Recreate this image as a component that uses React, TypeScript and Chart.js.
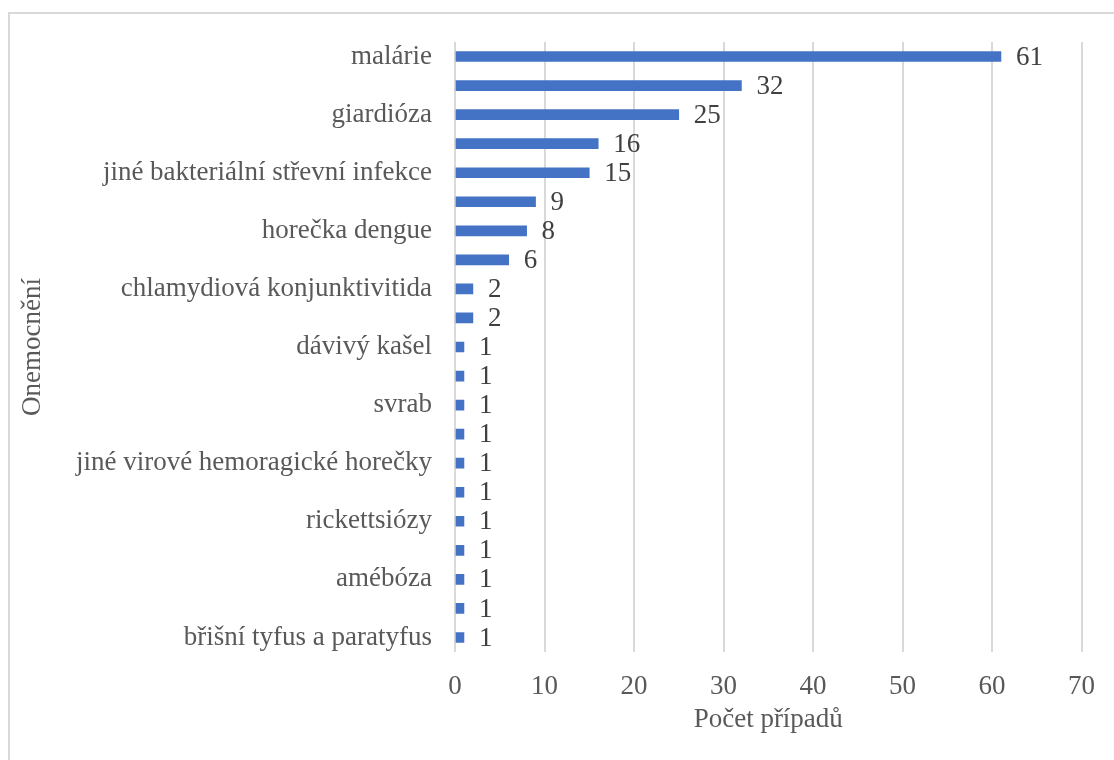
import React, { useEffect, useRef } from "react";
import { Chart, registerables } from "chart.js";

Chart.register(...registerables);

// Imported infectious diseases, ordered by number of cases (top to bottom)
const diseases: string[] = [
  "malárie",
  "kampylobakterióza",
  "giardióza",
  "salmonelóza",
  "jiné bakteriální střevní infekce",
  "virová hepatitida A",
  "horečka dengue",
  "shigelóza",
  "chlamydiová konjunktivitida",
  "leptospiróza",
  "dávivý kašel",
  "horečka zika",
  "svrab",
  "tuberkulóza",
  "jiné virové hemoragické horečky",
  "spalničky",
  "rickettsiózy",
  "kryptosporidióza",
  "amébóza",
  "lymeská borelióza",
  "břišní tyfus a paratyfus",
];

const cases: number[] = [61, 32, 25, 16, 15, 9, 8, 6, 2, 2, 1, 1, 1, 1, 1, 1, 1, 1, 1, 1, 1];

const xTicks: number[] = [0, 10, 20, 30, 40, 50, 60, 70];

const FONT = "'Liberation Serif', 'Times New Roman', serif";
const TEXT = "#595959";
const SIZE = 27;

// Value labels to the right of each bar
const valueLabels = {
  id: "valueLabels",
  afterDatasetsDraw(chart: Chart) {
    const { ctx } = chart;
    const meta = chart.getDatasetMeta(0);
    ctx.save();
    ctx.font = `${SIZE}px ${FONT}`;
    ctx.fillStyle = "#404040";
    ctx.textAlign = "left";
    ctx.textBaseline = "middle";
    meta.data.forEach((el: any, i: number) => {
      ctx.fillText(String(cases[i]), el.x + 15, el.y + 1);
    });
    ctx.restore();
  },
};

export default function App() {
  const canvasRef = useRef<HTMLCanvasElement | null>(null);

  useEffect(() => {
    if (!canvasRef.current) return;
    const chart = new Chart(canvasRef.current, {
      type: "bar",
      data: {
        labels: diseases,
        datasets: [
          {
            data: cases,
            backgroundColor: "#4472C4",
            barThickness: 10,
          },
        ],
      },
      options: {
        indexAxis: "y",
        responsive: false,
        animation: false,
        events: [],
        layout: { padding: { left: 0, top: 42, right: 31, bottom: 0 } },
        plugins: {
          legend: { display: false },
          tooltip: { enabled: false },
        },
        scales: {
          x: {
            min: xTicks[0],
            max: xTicks[xTicks.length - 1],
            afterFit(scale: any) {
              scale.height = 108;
            },
            afterBuildTicks(scale: any) {
              scale.ticks = xTicks.map((v) => ({ value: v }));
            },
            grid: { color: "#d9d9d9", lineWidth: 2, drawTicks: false },
            border: { display: false },
            ticks: {
              padding: 19,
              color: TEXT,
              font: { family: FONT, size: SIZE },
            },
            title: {
              display: true,
              text: "Počet případů",
              color: TEXT,
              font: { family: FONT, size: SIZE },
              padding: { top: 0, bottom: 24 },
            },
          },
          y: {
            afterFit(scale: any) {
              scale.width = 455;
            },
            grid: { display: false, drawTicks: false },
            border: { display: false },
            ticks: {
              autoSkip: false,
              padding: 23,
              color: TEXT,
              font: { family: FONT, size: SIZE },
              callback: (_v: any, i: number) => (i % 2 === 0 ? diseases[i] : ""),
            },
            title: {
              display: true,
              text: "Onemocnění",
              color: TEXT,
              font: { family: FONT, size: SIZE },
              padding: { top: 17, bottom: 0 },
            },
          },
        },
      },
      plugins: [valueLabels],
    });
    return () => chart.destroy();
  }, []);

  return (
    <>
      <div
        style={{
          position: "fixed",
          left: 8,
          top: 12,
          width: 1200,
          height: 800,
          borderTop: "2px solid #d9d9d9",
          borderLeft: "2px solid #d9d9d9",
          boxSizing: "border-box",
        }}
      />
      <canvas
        ref={canvasRef}
        width={1114}
        height={760}
        style={{ position: "fixed", left: 0, top: 0, width: 1114, height: 760 }}
      />
    </>
  );
}
